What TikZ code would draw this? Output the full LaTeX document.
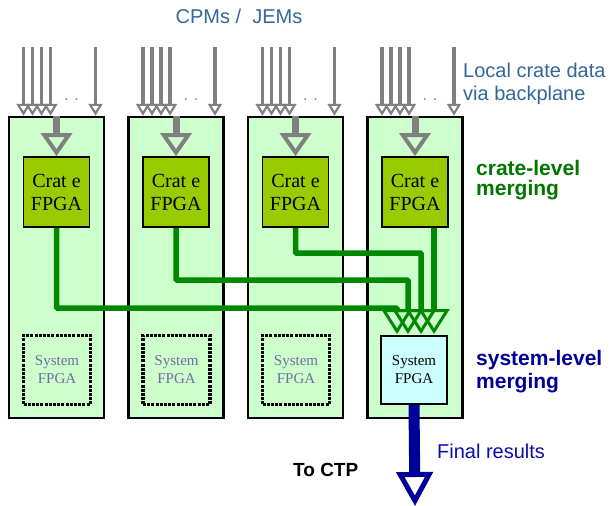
\documentclass[tikz,border=0pt]{standalone}
\usepackage{fontspec}
\setmainfont{Liberation Serif}
\newfontfamily\arialf{Liberation Sans}
\usetikzlibrary{arrows.meta,positioning}

\definecolor{crategreen}{RGB}{204,255,204}
\definecolor{fpgagreen}{RGB}{153,204,0}
\definecolor{mergegreen}{RGB}{0,136,0}
\definecolor{sysfill}{RGB}{204,255,255}
\definecolor{feedgray}{RGB}{128,128,128}
\definecolor{labelblue}{RGB}{51,102,153}
\definecolor{lvlgreen}{RGB}{0,119,0}
\definecolor{lvlblue}{RGB}{0,0,153}
\definecolor{finalblue}{RGB}{10,10,180}
\definecolor{sysgray}{RGB}{110,110,165}

\tikzset{
  cratebox/.style={draw=black, line width=2.5pt, fill=crategreen, minimum width=95pt, minimum height=301pt, inner sep=0pt},
  cratefpga/.style={draw=black, line width=1.8pt, fill=fpgagreen, minimum width=66pt, minimum height=70pt, inner sep=0pt, align=center, font=\fontsize{20}{23}\selectfont},
  sysidle/.style={draw=black, line width=3.5pt, dash pattern=on 3pt off 1.2pt, minimum width=67pt, minimum height=69pt, inner sep=0pt, align=center, text=sysgray, font=\fontsize{15}{18}\selectfont},
  sysmain/.style={draw=black, line width=1.8pt, fill=sysfill, minimum width=66pt, minimum height=68pt, inner sep=0pt, align=center, font=\fontsize{15}{18}\selectfont},
  feed/.style={draw=feedgray, line width=3.8pt, -{Triangle[open, length=12pt, width=14pt, line width=2.2pt]}},
  feedbig/.style={draw=feedgray, line width=7pt, -{Triangle[open, length=23pt, width=31pt, line width=4pt]}},
  merge/.style={draw=mergegreen, line width=5.5pt, rounded corners=1pt, -{Triangle[open, length=25pt, width=31pt, line width=3pt]}},
  result/.style={draw=lvlblue, line width=11pt, -{Triangle[open, length=34pt, width=36pt, line width=5pt]}},
  gapdots/.style={text=feedgray, inner sep=0pt, anchor=base, font=\arialf\fontsize{16}{16}\selectfont},
  bluelabel/.style={text=labelblue, inner sep=0pt, align=left, font=\arialf\fontsize{20}{23}\selectfont}
}

\begin{document}
\begin{tikzpicture}[x=1pt, y=-1pt]
  \useasboundingbox (0,0) rectangle (616,506);

  % crates
  \node[cratebox] (crate1) at (56.5,267.5) {};
  \node[cratebox] (crate2) at (176,267.5) {};
  \node[cratebox] (crate3) at (295.5,267.5) {};
  \node[cratebox] (crate4) at (415,267.5) {};

  \node[cratefpga] (cfpga1) at (56.5,192) {Crat e\\FPGA};
  \node[cratefpga] (cfpga2) at (176,192) {Crat e\\FPGA};
  \node[cratefpga] (cfpga3) at (295.5,192) {Crat e\\FPGA};
  \node[cratefpga] (cfpga4) at (415,192) {Crat e\\FPGA};

  \node[sysidle] (sfpga1) at (57,370) {System\\FPGA};
  \node[sysidle] (sfpga2) at (176.5,370) {System\\FPGA};
  \node[sysidle] (sfpga3) at (296,370) {System\\FPGA};
  \node[sysmain] (sfpga4) at (414,370) {System\\FPGA};

  % backplane inputs
  \foreach \c in {1,...,4}{
    \foreach \dx [count=\k] in {-33,-24,-15,-6,39}{
      \coordinate (in\c-\k) at ([xshift=\dx pt, yshift=69pt]crate\c.north);
      \draw[feed] (in\c-\k) -- (in\c-\k |- crate\c.north);
    }
    \node[gapdots] (gap\c) at ([xshift=15pt, yshift=15pt]crate\c.north) {. .};
    \draw[feedbig] (crate\c.north) -- (cfpga\c.north);
  }

  % crate-level to system-level
  \coordinate (tip1) at (397,334);
  \coordinate (tip2) at (408,334);
  \coordinate (tip3) at (421,334);
  \coordinate (tip4) at (434,334);
  \coordinate (bend1) at (397,308);
  \coordinate (bend2) at (408,280);
  \coordinate (bend3) at (421,253);
  \draw[merge] (cfpga1.south) |- (bend1) -- (tip1);
  \draw[merge] (cfpga2.south) |- (bend2) -- (tip2);
  \draw[merge] (cfpga3.south) |- (bend3) -- (tip3);
  \draw[merge] (cfpga4.south -| tip4) -- (tip4);

  % final output
  \coordinate (ctp) at (415,506);
  \draw[result] (sfpga4.south) -- (ctp);

  % labels
  \node[bluelabel] (cpms) at (239,16) {CPMs /~ JEMs};
  \node[bluelabel, anchor=base west] (local) at (463,100) {Local crate data\\via backplane};
  \node[inner sep=0pt, anchor=base west, align=left, text=lvlgreen, font=\arialf\bfseries\fontsize{21}{20}\selectfont] (cratelvl) at (476,195) {crate-level\\merging};
  \node[inner sep=0pt, anchor=base west, align=left, text=lvlblue, font=\arialf\bfseries\fontsize{21}{23}\selectfont] (syslvl) at (476,388) {system-level\\merging};
  \node[inner sep=0pt, anchor=base west, text=finalblue, font=\arialf\fontsize{20}{23}\selectfont] (final) at (437,458) {Final results};
  \node[inner sep=0pt, anchor=base west, font=\arialf\bfseries\fontsize{19}{22}\selectfont] (toctp) at (293,476) {To CTP};
\end{tikzpicture}
\end{document}
